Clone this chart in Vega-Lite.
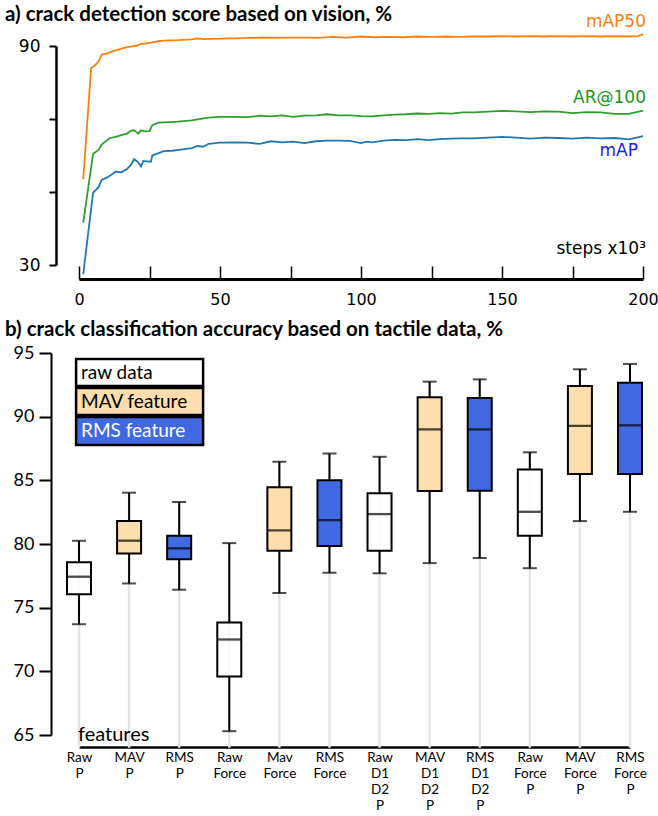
{
  "$schema": "https://vega.github.io/schema/vega-lite/v6.json",
  "padding": {"left": 5, "top": 5, "right": 0, "bottom": 0},
  "spacing": 12,
  "config": {
    "view": {"stroke": null},
    "font": "Lato",
    "axis": {"labelColor": "black", "domainColor": "black", "tickColor": "black", "grid": false, "title": null},
    "title": {"color": "black"}
  },
  "datasets": {
    "curves": [
      {"step": 1.5, "series": "mAP50", "value": 53.5},
      {"step": 4.3, "series": "mAP50", "value": 84.0},
      {"step": 5.5, "series": "mAP50", "value": 84.6},
      {"step": 7, "series": "mAP50", "value": 85.8},
      {"step": 8, "series": "mAP50", "value": 87.6},
      {"step": 10, "series": "mAP50", "value": 88.0},
      {"step": 12, "series": "mAP50", "value": 88.6},
      {"step": 14, "series": "mAP50", "value": 89.0},
      {"step": 16, "series": "mAP50", "value": 89.5},
      {"step": 18, "series": "mAP50", "value": 89.8},
      {"step": 20, "series": "mAP50", "value": 90.0},
      {"step": 22, "series": "mAP50", "value": 90.6},
      {"step": 24, "series": "mAP50", "value": 90.7},
      {"step": 26, "series": "mAP50", "value": 91.0},
      {"step": 28, "series": "mAP50", "value": 91.3},
      {"step": 30, "series": "mAP50", "value": 91.5},
      {"step": 35, "series": "mAP50", "value": 91.6},
      {"step": 40, "series": "mAP50", "value": 91.8},
      {"step": 42, "series": "mAP50", "value": 92.1},
      {"step": 44, "series": "mAP50", "value": 91.9},
      {"step": 50, "series": "mAP50", "value": 92.0},
      {"step": 55, "series": "mAP50", "value": 92.1},
      {"step": 60, "series": "mAP50", "value": 92.2},
      {"step": 65, "series": "mAP50", "value": 92.3},
      {"step": 70, "series": "mAP50", "value": 92.2},
      {"step": 75, "series": "mAP50", "value": 92.3},
      {"step": 80, "series": "mAP50", "value": 92.3},
      {"step": 85, "series": "mAP50", "value": 92.2},
      {"step": 90, "series": "mAP50", "value": 92.5},
      {"step": 95, "series": "mAP50", "value": 92.3},
      {"step": 100, "series": "mAP50", "value": 92.6},
      {"step": 105, "series": "mAP50", "value": 92.4},
      {"step": 110, "series": "mAP50", "value": 92.5},
      {"step": 115, "series": "mAP50", "value": 92.4},
      {"step": 120, "series": "mAP50", "value": 92.6},
      {"step": 125, "series": "mAP50", "value": 92.5},
      {"step": 130, "series": "mAP50", "value": 92.6},
      {"step": 135, "series": "mAP50", "value": 92.5},
      {"step": 140, "series": "mAP50", "value": 92.6},
      {"step": 145, "series": "mAP50", "value": 92.6},
      {"step": 150, "series": "mAP50", "value": 92.7},
      {"step": 155, "series": "mAP50", "value": 92.6},
      {"step": 160, "series": "mAP50", "value": 92.7},
      {"step": 165, "series": "mAP50", "value": 92.6},
      {"step": 170, "series": "mAP50", "value": 92.7},
      {"step": 175, "series": "mAP50", "value": 92.6},
      {"step": 180, "series": "mAP50", "value": 92.7},
      {"step": 185, "series": "mAP50", "value": 92.6},
      {"step": 190, "series": "mAP50", "value": 92.7},
      {"step": 195, "series": "mAP50", "value": 92.6},
      {"step": 198, "series": "mAP50", "value": 92.7},
      {"step": 200, "series": "mAP50", "value": 93.2},
      {"step": 1.5, "series": "AR@100", "value": 41.6},
      {"step": 5, "series": "AR@100", "value": 60.5},
      {"step": 6, "series": "AR@100", "value": 61.0},
      {"step": 7, "series": "AR@100", "value": 61.6},
      {"step": 8, "series": "AR@100", "value": 63.0},
      {"step": 9, "series": "AR@100", "value": 63.6},
      {"step": 11, "series": "AR@100", "value": 64.8},
      {"step": 13, "series": "AR@100", "value": 65.1},
      {"step": 15, "series": "AR@100", "value": 65.6},
      {"step": 17, "series": "AR@100", "value": 66.0},
      {"step": 18.5, "series": "AR@100", "value": 66.8},
      {"step": 19.5, "series": "AR@100", "value": 66.9},
      {"step": 21, "series": "AR@100", "value": 66.0},
      {"step": 22, "series": "AR@100", "value": 66.9},
      {"step": 23.5, "series": "AR@100", "value": 66.6},
      {"step": 25, "series": "AR@100", "value": 66.7},
      {"step": 26, "series": "AR@100", "value": 68.3},
      {"step": 28, "series": "AR@100", "value": 69.0},
      {"step": 30, "series": "AR@100", "value": 69.1},
      {"step": 35, "series": "AR@100", "value": 69.3},
      {"step": 40, "series": "AR@100", "value": 69.6},
      {"step": 42, "series": "AR@100", "value": 69.9},
      {"step": 46, "series": "AR@100", "value": 70.4},
      {"step": 50, "series": "AR@100", "value": 70.6},
      {"step": 55, "series": "AR@100", "value": 70.6},
      {"step": 60, "series": "AR@100", "value": 70.5},
      {"step": 64, "series": "AR@100", "value": 70.9},
      {"step": 68, "series": "AR@100", "value": 70.7},
      {"step": 72, "series": "AR@100", "value": 71.0},
      {"step": 76, "series": "AR@100", "value": 70.6},
      {"step": 80, "series": "AR@100", "value": 70.9},
      {"step": 84, "series": "AR@100", "value": 71.0},
      {"step": 88, "series": "AR@100", "value": 71.3},
      {"step": 92, "series": "AR@100", "value": 71.0},
      {"step": 96, "series": "AR@100", "value": 71.0},
      {"step": 100, "series": "AR@100", "value": 70.8},
      {"step": 104, "series": "AR@100", "value": 70.7},
      {"step": 108, "series": "AR@100", "value": 71.0},
      {"step": 112, "series": "AR@100", "value": 71.2},
      {"step": 116, "series": "AR@100", "value": 71.3},
      {"step": 120, "series": "AR@100", "value": 71.5},
      {"step": 124, "series": "AR@100", "value": 71.4},
      {"step": 128, "series": "AR@100", "value": 71.6},
      {"step": 132, "series": "AR@100", "value": 71.5},
      {"step": 136, "series": "AR@100", "value": 71.8},
      {"step": 140, "series": "AR@100", "value": 71.8},
      {"step": 145, "series": "AR@100", "value": 72.0},
      {"step": 150, "series": "AR@100", "value": 72.2},
      {"step": 155, "series": "AR@100", "value": 72.1},
      {"step": 160, "series": "AR@100", "value": 71.9},
      {"step": 165, "series": "AR@100", "value": 72.1},
      {"step": 170, "series": "AR@100", "value": 72.0},
      {"step": 175, "series": "AR@100", "value": 71.6},
      {"step": 180, "series": "AR@100", "value": 71.9},
      {"step": 185, "series": "AR@100", "value": 71.8},
      {"step": 190, "series": "AR@100", "value": 71.4},
      {"step": 195, "series": "AR@100", "value": 71.4},
      {"step": 200, "series": "AR@100", "value": 72.3},
      {"step": 1.5, "series": "mAP", "value": 27.5},
      {"step": 5, "series": "mAP", "value": 49.8},
      {"step": 6, "series": "mAP", "value": 50.6},
      {"step": 7, "series": "mAP", "value": 51.4},
      {"step": 8, "series": "mAP", "value": 53.3},
      {"step": 10, "series": "mAP", "value": 54.0},
      {"step": 12, "series": "mAP", "value": 55.0},
      {"step": 13, "series": "mAP", "value": 55.6},
      {"step": 15, "series": "mAP", "value": 55.4},
      {"step": 17, "series": "mAP", "value": 56.3},
      {"step": 18.5, "series": "mAP", "value": 57.5},
      {"step": 19.5, "series": "mAP", "value": 59.0},
      {"step": 21, "series": "mAP", "value": 58.2},
      {"step": 22, "series": "mAP", "value": 57.0},
      {"step": 22.8, "series": "mAP", "value": 58.5},
      {"step": 24, "series": "mAP", "value": 58.4},
      {"step": 25.5, "series": "mAP", "value": 58.3},
      {"step": 26, "series": "mAP", "value": 60.0},
      {"step": 28, "series": "mAP", "value": 60.6},
      {"step": 30, "series": "mAP", "value": 61.2},
      {"step": 33, "series": "mAP", "value": 61.3},
      {"step": 36, "series": "mAP", "value": 61.6},
      {"step": 40, "series": "mAP", "value": 62.0},
      {"step": 42, "series": "mAP", "value": 62.6},
      {"step": 44, "series": "mAP", "value": 62.4},
      {"step": 46, "series": "mAP", "value": 63.2},
      {"step": 50, "series": "mAP", "value": 63.5},
      {"step": 55, "series": "mAP", "value": 63.6},
      {"step": 60, "series": "mAP", "value": 63.5},
      {"step": 64, "series": "mAP", "value": 63.2},
      {"step": 68, "series": "mAP", "value": 63.9},
      {"step": 72, "series": "mAP", "value": 63.6},
      {"step": 76, "series": "mAP", "value": 63.8},
      {"step": 80, "series": "mAP", "value": 63.4},
      {"step": 84, "series": "mAP", "value": 63.9},
      {"step": 88, "series": "mAP", "value": 64.1},
      {"step": 92, "series": "mAP", "value": 64.1},
      {"step": 96, "series": "mAP", "value": 64.0},
      {"step": 100, "series": "mAP", "value": 63.4},
      {"step": 102, "series": "mAP", "value": 63.8},
      {"step": 104, "series": "mAP", "value": 63.6},
      {"step": 108, "series": "mAP", "value": 64.1},
      {"step": 112, "series": "mAP", "value": 64.3},
      {"step": 116, "series": "mAP", "value": 64.2},
      {"step": 120, "series": "mAP", "value": 64.5},
      {"step": 124, "series": "mAP", "value": 64.2},
      {"step": 128, "series": "mAP", "value": 64.5},
      {"step": 132, "series": "mAP", "value": 64.6},
      {"step": 136, "series": "mAP", "value": 64.7},
      {"step": 140, "series": "mAP", "value": 64.7},
      {"step": 145, "series": "mAP", "value": 64.9},
      {"step": 150, "series": "mAP", "value": 65.1},
      {"step": 155, "series": "mAP", "value": 64.9},
      {"step": 160, "series": "mAP", "value": 64.6},
      {"step": 165, "series": "mAP", "value": 64.9},
      {"step": 170, "series": "mAP", "value": 64.8},
      {"step": 175, "series": "mAP", "value": 64.6},
      {"step": 180, "series": "mAP", "value": 64.9},
      {"step": 185, "series": "mAP", "value": 64.7},
      {"step": 190, "series": "mAP", "value": 64.8},
      {"step": 195, "series": "mAP", "value": 64.4},
      {"step": 200, "series": "mAP", "value": 65.3}
    ],
    "curveLabels": [
      {"label": "mAP50", "step": 200, "value": 96.6},
      {"label": "AR@100", "step": 200, "value": 75.8},
      {"label": "mAP", "step": 200, "value": 61.2},
      {"label": "steps x10³", "step": 200, "value": 34.4}
    ],
    "boxes": [
      {"cat": "Raw P", "type": "raw", "lo": 73.7, "q1": 76.05, "med": 77.43, "q3": 78.56, "hi": 80.25, "base": 64},
      {"cat": "MAV P", "type": "MAV", "lo": 76.9, "q1": 79.26, "med": 80.26, "q3": 81.8, "hi": 84.03, "base": 64},
      {"cat": "RMS P", "type": "RMS", "lo": 76.41, "q1": 78.8, "med": 79.66, "q3": 80.65, "hi": 83.3, "base": 64},
      {"cat": "Raw Force", "type": "raw", "lo": 65.3, "q1": 69.6, "med": 72.5, "q3": 73.84, "hi": 80.07, "base": 64},
      {"cat": "Mav Force", "type": "MAV", "lo": 76.15, "q1": 79.47, "med": 81.07, "q3": 84.45, "hi": 86.46, "base": 64},
      {"cat": "RMS Force", "type": "RMS", "lo": 77.74, "q1": 79.84, "med": 81.88, "q3": 85.0, "hi": 87.1, "base": 64},
      {"cat": "Raw D1 D2 P", "type": "raw", "lo": 77.7, "q1": 79.47, "med": 82.35, "q3": 83.98, "hi": 86.85, "base": 64},
      {"cat": "MAV D1 D2 P", "type": "MAV", "lo": 78.5, "q1": 84.16, "med": 89.0, "q3": 91.52, "hi": 92.75, "base": 64},
      {"cat": "RMS D1 D2 P", "type": "RMS", "lo": 78.9, "q1": 84.18, "med": 89.0, "q3": 91.46, "hi": 92.93, "base": 64},
      {"cat": "Raw Force P", "type": "raw", "lo": 78.1, "q1": 80.65, "med": 82.53, "q3": 85.86, "hi": 87.2, "base": 64},
      {"cat": "MAV Force P", "type": "MAV", "lo": 81.8, "q1": 85.5, "med": 89.27, "q3": 92.41, "hi": 93.72, "base": 64},
      {"cat": "RMS Force P", "type": "RMS", "lo": 82.53, "q1": 85.5, "med": 89.32, "q3": 92.67, "hi": 94.14, "base": 64}
    ],
    "legendRows": [
      {"label": "raw data", "type": "raw", "cat": "MAV P", "anchor": "Raw P", "top": 94.53, "bottom": 92.41, "mid": 93.4},
      {"label": "MAV feature", "type": "MAV", "cat": "MAV P", "anchor": "Raw P", "top": 92.25, "bottom": 90.13, "mid": 91.15},
      {"label": "RMS feature", "type": "RMS", "cat": "MAV P", "anchor": "Raw P", "top": 89.97, "bottom": 87.77, "mid": 88.85}
    ],
    "axisNote": [
      {"label": "features", "cat": "Raw P", "value": 65}
    ]
  },
  "vconcat": [
    {
      "width": 564,
      "height": 219,
      "title": {"text": "a) crack detection score based on vision, %", "anchor": "start", "frame": "group", "dx": -74, "offset": -29, "baseline": "alphabetic", "fontSize": 20.5, "fontWeight": "bold", "font": "Lato"},
      "layer": [
        {
          "data": {"name": "curves"},
          "mark": {"type": "line", "strokeWidth": 1.8, "clip": false},
          "encoding": {
            "x": {"field": "step", "type": "quantitative", "scale": {"domain": [0, 200], "nice": false},
                  "axis": {"offset": 14, "values": [0, 25, 50, 75, 100, 125, 150, 175, 200], "labelExpr": "datum.value % 50 === 0 ? datum.label : ''",
                           "tickSize": -13, "tickWidth": 1.5, "domainWidth": 3, "labelPadding": 25, "labelFont": "DejaVu Sans", "labelFontSize": 16, "labelFlush": false}},
            "y": {"field": "value", "type": "quantitative", "scale": {"domain": [30, 90], "nice": false, "zero": false},
                  "axis": {"offset": 23, "values": [30, 40, 50, 60, 70, 80, 90], "labelExpr": "datum.value % 30 === 0 ? datum.label : ''",
                           "tickSize": 7, "tickWidth": 2, "domainWidth": 2.5, "labelPadding": 9, "labelFont": "DejaVu Sans", "labelFontSize": 17}},
            "color": {"field": "series", "type": "nominal", "scale": {"domain": ["mAP50", "AR@100", "mAP"], "range": ["#ff7f0e", "#2ca02c", "#1f77b4"]}, "legend": null}
          }
        },
        {
          "data": {"name": "curveLabels"},
          "transform": [{"filter": "datum.label !== 'mAP'"}],
          "mark": {"type": "text", "align": "right", "baseline": "middle", "dx": 3, "font": "DejaVu Sans", "fontSize": 17, "clip": false},
          "encoding": {
            "x": {"field": "step", "type": "quantitative"},
            "y": {"field": "value", "type": "quantitative"},
            "text": {"field": "label"},
            "fill": {"condition": [{"test": "datum.label === 'mAP50'", "value": "#ff7f0e"}, {"test": "datum.label === 'AR@100'", "value": "#1a961a"}], "value": "black"}
          }
        },
        {
          "data": {"name": "curveLabels"},
          "transform": [{"filter": "datum.label === 'mAP'"}],
          "mark": {"type": "text", "align": "right", "baseline": "middle", "dx": -5, "font": "DejaVu Sans", "fontSize": 17, "fill": "#1a1aff", "clip": false},
          "encoding": {
            "x": {"field": "step", "type": "quantitative"},
            "y": {"field": "value", "type": "quantitative"},
            "text": {"field": "label"}
          }
        }
      ]
    },
    {
      "width": 551,
      "height": 382,
      "title": {"text": "b) crack classification accuracy based on tactile data, %", "anchor": "start", "frame": "group", "dx": -74, "offset": -12, "baseline": "alphabetic", "fontSize": 20.5, "fontWeight": "bold", "font": "Lato"},
      "layer": [
        {
          "data": {"name": "boxes"},
          "mark": {"type": "rule", "color": "#e4e4e4", "strokeWidth": 2.5},
          "encoding": {
            "x": {"field": "cat", "type": "nominal", "sort": null,
                  "scale": {"type": "point", "padding": 0, "domain": ["Raw P", "MAV P", "RMS P", "Raw Force", "Mav Force", "RMS Force", "Raw D1 D2 P", "MAV D1 D2 P", "RMS D1 D2 P", "Raw Force P", "MAV Force P", "RMS Force P"]},
                  "axis": {"offset": 12, "ticks": false, "domainWidth": 2.5, "labelAngle": 0, "labelPadding": 3, "labelFontSize": 13.5, "labelLineHeight": 16, "labelBaseline": "top",
                           "labelExpr": "split(datum.label, ' ')"}},
            "y": {"field": "base", "type": "quantitative", "scale": {"domain": [65, 95], "nice": false, "zero": false},
                  "axis": {"offset": 28, "values": [65, 70, 75, 80, 85, 90, 95], "tickSize": 12, "tickWidth": 2, "domainWidth": 2, "labelPadding": 5, "labelFontSize": 18}},
            "y2": {"field": "hi"}
          }
        },
        {
          "data": {"name": "boxes"},
          "mark": {"type": "rule", "color": "black", "strokeWidth": 2},
          "encoding": {
            "x": {"field": "cat", "type": "nominal"},
            "y": {"field": "lo", "type": "quantitative"},
            "y2": {"field": "q1"}
          }
        },
        {
          "data": {"name": "boxes"},
          "mark": {"type": "rule", "color": "black", "strokeWidth": 2},
          "encoding": {
            "x": {"field": "cat", "type": "nominal"},
            "y": {"field": "q3", "type": "quantitative"},
            "y2": {"field": "hi"}
          }
        },
        {
          "data": {"name": "boxes"},
          "mark": {"type": "tick", "color": "black", "size": 14, "thickness": 2},
          "encoding": {
            "x": {"field": "cat", "type": "nominal"},
            "y": {"field": "hi", "type": "quantitative"}
          }
        },
        {
          "data": {"name": "boxes"},
          "mark": {"type": "tick", "color": "black", "size": 14, "thickness": 2},
          "encoding": {
            "x": {"field": "cat", "type": "nominal"},
            "y": {"field": "lo", "type": "quantitative"}
          }
        },
        {
          "data": {"name": "boxes"},
          "mark": {"type": "bar", "size": 24, "stroke": "black", "strokeWidth": 2},
          "encoding": {
            "x": {"field": "cat", "type": "nominal"},
            "y": {"field": "q1", "type": "quantitative"},
            "y2": {"field": "q3"},
            "fill": {"field": "type", "type": "nominal", "scale": {"domain": ["raw", "MAV", "RMS"], "range": ["#ffffff", "#fddeac", "#4169e1"]}, "legend": null},
            "fillOpacity": {"condition": {"test": "datum.type === 'raw'", "value": 0.85}, "value": 1}
          }
        },
        {
          "data": {"name": "boxes"},
          "mark": {"type": "tick", "color": "black", "size": 24, "thickness": 2.3},
          "encoding": {
            "x": {"field": "cat", "type": "nominal"},
            "y": {"field": "med", "type": "quantitative"}
          }
        },
        {
          "data": {"name": "legendRows"},
          "mark": {"type": "bar", "size": 127, "stroke": "black", "strokeWidth": 2.5, "xOffset": 10.5},
          "encoding": {
            "x": {"field": "cat", "type": "nominal"},
            "y": {"field": "top", "type": "quantitative"},
            "y2": {"field": "bottom"},
            "fill": {"field": "type", "type": "nominal", "legend": null}
          }
        },
        {
          "data": {"name": "legendRows"},
          "mark": {"type": "text", "align": "left", "baseline": "middle", "dx": 2, "fontSize": 19},
          "encoding": {
            "x": {"field": "anchor", "type": "nominal"},
            "y": {"field": "mid", "type": "quantitative"},
            "text": {"field": "label"},
            "fill": {"condition": {"test": "datum.type === 'RMS'", "value": "white"}, "value": "black"}
          }
        },
        {
          "data": {"name": "axisNote"},
          "mark": {"type": "text", "align": "left", "baseline": "middle", "dx": -1, "fontSize": 20, "fill": "black"},
          "encoding": {
            "x": {"field": "cat", "type": "nominal"},
            "y": {"field": "value", "type": "quantitative"},
            "text": {"field": "label"}
          }
        }
      ]
    }
  ]
}
